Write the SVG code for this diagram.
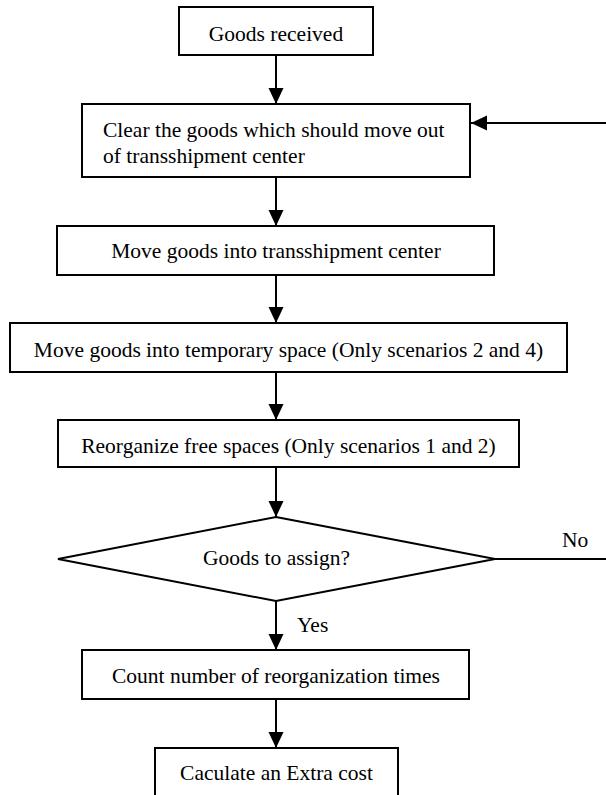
<svg xmlns="http://www.w3.org/2000/svg" width="606" height="795" viewBox="0 0 606 795">
<style>
.box{fill:#fff;stroke:#000;stroke-width:2}
.t{font-family:"Liberation Serif","Times New Roman",serif;font-size:21.5px;fill:#000}
.c{text-anchor:middle}
.ln{stroke:#000;stroke-width:2;fill:none}
</style>
<defs>
<marker id="ah" markerUnits="userSpaceOnUse" markerWidth="16" markerHeight="16" viewBox="0 0 16 16" refX="16" refY="8" orient="auto">
<path d="M0,0.5 L16,8 L0,15.5 z" fill="#000"/>
</marker>
</defs>
<g id="n1">
<rect class="box" x="179" y="7" width="194" height="48"/>
<text class="t c" x="276" y="41">Goods received</text>
</g>
<g id="n2">
<rect class="box" x="82" y="104" width="388" height="73"/>
<text class="t" x="103" y="137">Clear the goods which should move out</text>
<text class="t" x="103" y="163">of transshipment center</text>
</g>
<g id="n3">
<rect class="box" x="57" y="226" width="437" height="49"/>
<text class="t c" x="276" y="258">Move goods into transshipment center</text>
</g>
<g id="n4">
<rect class="box" x="10" y="323" width="557" height="49"/>
<text class="t c" x="288.5" y="357">Move goods into temporary space (Only scenarios 2 and 4)</text>
</g>
<g id="n5">
<rect class="box" x="58" y="420" width="461" height="47"/>
<text class="t c" x="288.5" y="453">Reorganize free spaces (Only scenarios 1 and 2)</text>
</g>
<g id="n6">
<polygon class="box" points="276,517 495,559 276,601 58,559"/>
<text class="t c" x="276.5" y="565">Goods to assign?</text>
</g>
<g id="n7">
<rect class="box" x="82" y="650" width="387" height="49"/>
<text class="t c" x="276" y="683">Count number of reorganization times</text>
</g>
<g id="n8">
<rect class="box" x="155" y="748" width="243" height="60"/>
<text class="t c" x="276.5" y="780">Caculate an Extra cost</text>
</g>
<g id="connectors">
<line class="ln" x1="276" y1="55" x2="276" y2="104" marker-end="url(#ah)"/>
<line class="ln" x1="606" y1="123" x2="471" y2="123" marker-end="url(#ah)"/>
<line class="ln" x1="276" y1="177" x2="276" y2="226" marker-end="url(#ah)"/>
<line class="ln" x1="276" y1="275" x2="276" y2="323" marker-end="url(#ah)"/>
<line class="ln" x1="276" y1="372" x2="276" y2="420" marker-end="url(#ah)"/>
<line class="ln" x1="276" y1="467" x2="276" y2="517" marker-end="url(#ah)"/>
<line class="ln" x1="276" y1="601" x2="276" y2="650" marker-end="url(#ah)"/>
<line class="ln" x1="276" y1="699" x2="276" y2="748" marker-end="url(#ah)"/>
<line class="ln" x1="495" y1="559" x2="606" y2="559"/>
<text class="t" x="562" y="547">No</text>
<text class="t" x="297" y="632">Yes</text>
</g>
</svg>
